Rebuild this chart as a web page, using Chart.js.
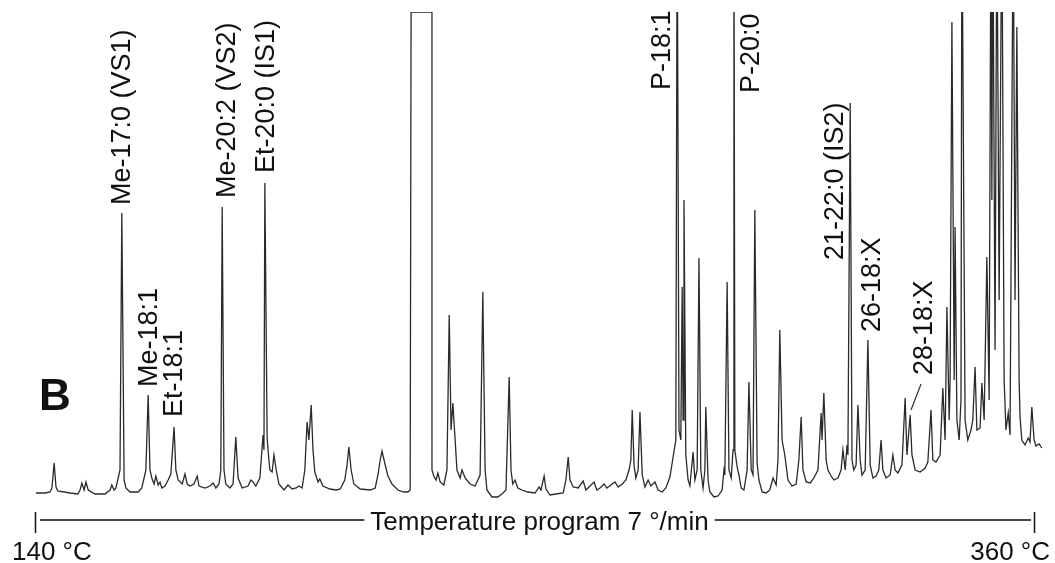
<!DOCTYPE html>
<html lang="en">
<head>
  <meta charset="UTF-8">
  <title>GC trace B</title>
  <script src="https://cdn.jsdelivr.net/npm/chart.js"></script>
  <style>
    body { margin: 0; background: #fff; }
    #wrap { width: 1055px; height: 563px; position: relative; }
  </style>
</head>
<body>
  <div id="wrap">
    <canvas id="gcChart"></canvas>
  </div>

  <script>
    // Temperature program ends (°C), also the two ticks of the bottom axis
    const tempTicks = [140, 360];
    const programText = 'Temperature program 7 °/min';
    const panelLetter = 'B';

    // Detector trace as [temperature °C, response (arb. units)].
    // Response 600 = peak runs off the top of the plot.
    const traceEarly = [
      [139.8, 7], [142.0, 7], [143.1, 8], [143.5, 12], [144.0, 37], [144.4, 13], [144.8, 9],
      [147.5, 7], [149.2, 6], [149.7, 10], [150.1, 17], [150.6, 10], [151.0, 18], [151.5, 10],
      [153.0, 6], [155.2, 6], [156.3, 10], [156.7, 15], [157.2, 10], [157.6, 12], [158.1, 22],
      [158.5, 30], [158.9, 287], [159.4, 20], [159.8, 12], [160.7, 8], [162.5, 8], [163.3, 12],
      [163.8, 22], [164.2, 30], [164.7, 105], [165.1, 30], [165.5, 22], [166.0, 16], [166.4, 24],
      [166.9, 15], [167.3, 18], [167.7, 12], [168.4, 14], [169.1, 20], [169.7, 26], [170.4, 73],
      [170.8, 30], [171.3, 20], [172.2, 16], [172.8, 26], [173.3, 16], [173.9, 14], [174.8, 16],
      [175.5, 24], [175.9, 14], [177.2, 12], [178.3, 14], [179.0, 17], [179.6, 12], [180.3, 16],
      [180.7, 30], [181.0, 293], [181.4, 30], [181.8, 16], [182.7, 12], [183.4, 16], [184.0, 63],
      [184.5, 22], [185.4, 12], [186.7, 14], [187.3, 20], [187.8, 18], [188.4, 14], [189.3, 22],
      [190.0, 65], [190.2, 50], [190.4, 317], [190.9, 62], [191.1, 50], [191.5, 30], [192.0, 28],
      [192.4, 45], [192.9, 30], [193.5, 16], [194.6, 10], [195.5, 15], [196.4, 11], [197.3, 12],
      [197.9, 14], [198.6, 12], [199.2, 30], [199.7, 78], [200.1, 60], [200.6, 95], [201.0, 50],
      [201.4, 28], [202.1, 18], [202.5, 21], [203.2, 14], [204.7, 11], [206.1, 10], [207.0, 11],
      [208.0, 20], [208.5, 35], [208.9, 53], [209.4, 30], [210.0, 16], [211.4, 11], [213.6, 10],
      [214.7, 12], [215.3, 25], [215.8, 40], [216.2, 49], [216.9, 35], [217.5, 24], [218.4, 16],
      [219.7, 10], [221.0, 8], [221.9, 8], [222.4, 10]
    ];

    // saturated solvent peak (flat top)
    const traceSolvent = [
      [222.6, 488], [227.2, 488], [227.2, 30]
    ];

    const traceMid = [
      [227.6, 24], [228.1, 20], [228.5, 27], [229.0, 18], [229.8, 15], [230.5, 30], [231.0, 185],
      [231.4, 70], [231.8, 97], [232.3, 60], [232.7, 30], [233.4, 22], [233.8, 30], [234.5, 22],
      [235.6, 16], [236.7, 14], [237.8, 25], [238.4, 208], [238.9, 30], [239.3, 10], [240.4, 3],
      [241.7, 3], [242.6, 6], [243.5, 10], [244.2, 123], [244.6, 30], [245.0, 16], [245.5, 20],
      [246.1, 12], [247.0, 10], [248.3, 8], [249.9, 7], [250.8, 13], [251.2, 10], [251.9, 24],
      [252.3, 11], [253.2, 5], [254.5, 6], [256.1, 7], [256.7, 20], [257.2, 43], [257.6, 20],
      [258.3, 13], [259.4, 12], [260.5, 19], [261.1, 10], [262.0, 14], [262.9, 18], [263.5, 10],
      [264.2, 12], [265.1, 16], [265.7, 12], [266.6, 15], [267.5, 18], [268.2, 13], [269.1, 16],
      [269.9, 20], [270.6, 30], [271.0, 40], [271.3, 90], [271.7, 35], [272.1, 22], [272.6, 30],
      [273.0, 88], [273.5, 25], [274.1, 13], [274.8, 20], [275.4, 14], [276.3, 18], [277.0, 10],
      [277.9, 8], [278.7, 12], [279.6, 23], [280.3, 43], [280.9, 60], [281.2, 600], [281.6, 70],
      [282.0, 60], [282.3, 213], [282.5, 80], [282.7, 300], [283.1, 45], [283.6, 20], [284.0, 14],
      [284.7, 48], [285.1, 20], [285.6, 30], [286.0, 242], [286.4, 30], [286.9, 12], [287.3, 30],
      [287.5, 93], [288.0, 20], [288.4, 8]
    ];

    const traceLate = [
      [289.3, 3], [290.2, 4], [291.1, 10], [291.5, 30], [291.7, 25], [292.2, 218], [292.6, 30],
      [293.1, 22], [293.5, 50], [293.7, 600], [293.9, 50], [294.4, 33], [294.8, 25], [295.3, 12],
      [295.9, 10], [296.6, 30], [297.0, 118], [297.5, 30], [297.9, 25], [298.3, 290], [298.8, 37],
      [299.2, 20], [299.9, 8], [300.8, 7], [301.6, 10], [302.3, 22], [303.0, 15], [303.4, 40],
      [303.8, 170], [304.3, 60], [304.9, 45], [305.6, 20], [306.5, 14], [307.4, 16], [308.0, 40],
      [308.5, 83], [308.9, 30], [309.6, 18], [310.5, 17], [311.3, 22], [312.2, 30], [312.9, 87],
      [313.1, 60], [313.5, 107], [314.0, 40], [314.4, 30], [315.1, 24], [315.7, 20], [316.6, 22],
      [317.3, 30], [317.7, 50], [318.2, 30], [318.6, 55], [318.8, 45], [319.3, 397], [319.7, 40],
      [320.1, 30], [320.6, 35], [321.0, 95], [321.5, 40], [321.9, 25], [322.6, 30], [323.2, 160],
      [323.7, 35], [324.3, 22], [325.0, 24], [325.6, 30], [326.1, 60], [326.5, 30], [327.2, 22],
      [328.1, 25], [328.7, 45], [329.2, 30], [329.8, 27], [330.7, 35], [331.4, 102], [331.8, 45],
      [332.5, 85], [332.9, 45], [333.6, 30], [334.7, 28], [335.8, 32], [336.4, 38], [337.1, 90],
      [337.5, 40], [338.2, 38], [339.1, 45], [339.7, 112], [340.2, 60], [340.6, 193], [341.1, 80],
      [341.3, 120], [341.7, 478], [342.2, 120], [342.4, 273], [342.8, 80], [343.3, 60], [343.7, 100],
      [343.9, 600], [344.1, 453], [344.6, 80], [345.2, 60], [345.9, 70], [346.3, 80], [346.8, 133],
      [347.2, 70], [347.9, 72], [348.3, 117], [348.8, 80], [349.4, 243], [349.9, 100], [350.3, 600],
      [350.5, 300], [350.7, 600], [351.2, 150], [351.6, 600], [352.1, 200], [352.7, 600], [353.2, 120],
      [353.6, 70], [354.1, 87], [354.5, 65], [355.2, 600], [355.6, 200], [356.0, 473], [356.5, 120],
      [356.7, 83], [357.1, 60], [357.8, 55], [358.5, 62], [358.9, 58], [359.3, 93], [359.8, 60],
      [360.2, 54], [360.9, 56], [361.5, 52]
    ];

    // Peak annotations: text, temperature of the text baseline, response where the text starts
    const peakNames = ['Me-17:0 (VS1)', 'Me-18:1', 'Et-18:1', 'Me-20:2 (VS2)', 'Et-20:0 (IS1)',
                       'P-18:1', 'P-20:0', '21-22:0 (IS2)', '26-18:X', '28-18:X'];
    const peakLabelT = [160.6, 166.6, 172.2, 183.8, 192.4, 279.6, 299.2, 317.7, 325.9, 337.3];
    const peakLabelR = [295, 113, 83, 302, 327, 410, 407, 240, 168, 125];
    // leader line from the 28-18:X peak to its label
    const leader = [[332.7, 90], [334.9, 116]];

    const trace = traceEarly.concat(traceSolvent, traceMid, traceLate);
    const FONT = "'Liberation Sans', Arial, sans-serif";

    // labels, panel letter and the temperature program bar
    const annotate = {
      id: 'annotate',
      afterDraw(chart) {
        const ctx = chart.ctx;
        const xs = chart.scales.x, ys = chart.scales.y;
        const area = chart.chartArea;
        ctx.save();
        ctx.fillStyle = '#111';

        // rotated peak labels
        ctx.font = '27px ' + FONT;
        ctx.textAlign = 'left';
        ctx.textBaseline = 'alphabetic';
        for (let i = 0; i < peakNames.length; i++) {
          ctx.save();
          ctx.translate(xs.getPixelForValue(peakLabelT[i]), ys.getPixelForValue(peakLabelR[i]));
          ctx.rotate(-Math.PI / 2);
          ctx.fillText(peakNames[i], 0, 0);
          ctx.restore();
        }

        // panel letter
        ctx.font = 'bold 44px ' + FONT;
        ctx.fillText(panelLetter, 39, 410);

        // temperature program bar
        const x0 = xs.getPixelForValue(tempTicks[0]);
        const x1 = xs.getPixelForValue(tempTicks[1]);
        const yb = area.bottom + 20;
        ctx.strokeStyle = '#111';
        ctx.lineWidth = 1.5;
        ctx.beginPath();
        ctx.moveTo(x0 + 4, yb); ctx.lineTo(x1 - 4, yb);
        ctx.moveTo(x0 - 0.5, yb - 8); ctx.lineTo(x0 - 0.5, yb + 13);
        ctx.moveTo(x1 - 0.5, yb - 8); ctx.lineTo(x1 - 0.5, yb + 13);
        ctx.stroke();

        ctx.font = '26px ' + FONT;
        const w = ctx.measureText(programText).width;
        const cx = (x0 + x1) / 2 + 4;
        ctx.fillStyle = '#fff';
        ctx.fillRect(cx - w / 2 - 6, yb - 12, w + 12, 24);
        ctx.fillStyle = '#111';
        ctx.textAlign = 'center';
        ctx.fillText(programText, cx, yb + 10);

        ctx.textAlign = 'left';
        ctx.fillText(tempTicks[0] + ' °C', x0 - 24, yb + 40);
        ctx.textAlign = 'right';
        ctx.fillText(tempTicks[1] + ' °C', x1 + 15, yb + 40);
        ctx.restore();
      }
    };

    new Chart(document.getElementById('gcChart'), {
      type: 'line',
      data: {
        datasets: [{
          data: trace.map(p => ({ x: p[0], y: p[1] })),
          borderColor: '#2a2a2a',
          borderWidth: 1.3,
          pointRadius: 0,
          tension: 0
        }, {
          data: leader.map(p => ({ x: p[0], y: p[1] })),
          borderColor: '#333',
          borderWidth: 1.2,
          pointRadius: 0
        }]
      },
      options: {
        responsive: true,
        maintainAspectRatio: false,
        animation: false,
        layout: { padding: { left: 36, right: 10, top: 12, bottom: 63 } },
        plugins: { legend: { display: false }, tooltip: { enabled: false } },
        scales: {
          x: { type: 'linear', min: 140, max: 362.2, display: false },
          y: { min: 0, max: 488, display: false }
        }
      },
      plugins: [annotate]
    });
  </script>
</body>
</html>
